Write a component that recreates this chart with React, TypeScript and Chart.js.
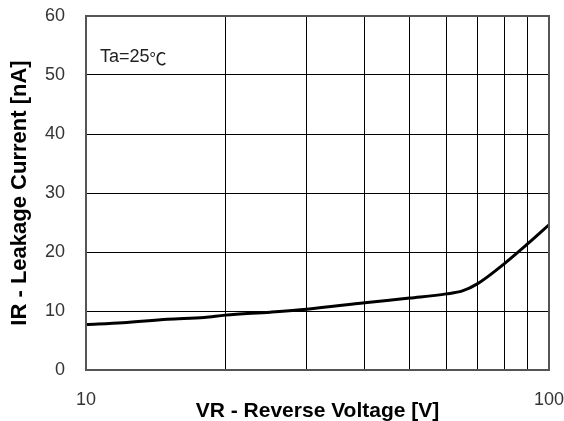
import React, { useEffect, useRef } from "react";
import { Chart, registerables } from "chart.js";

Chart.register(...registerables);

const voltage = [10, 12, 15, 18, 20, 25, 30, 40, 50, 60, 65, 70, 80, 90, 100];
const leakage = [7.7, 8.0, 8.6, 8.9, 9.3, 9.8, 10.3, 11.4, 12.2, 12.9, 13.4, 14.6, 18.0, 21.4, 24.6];
const xGridTicks = [10, 20, 30, 40, 50, 60, 70, 80, 90, 100];
const xLabelTicks = [10, 100];
const yMin = 0;
const yMax = 60;
const yStep = 10;
const annotationMain = "Ta=25";
const annotationUnit = "℃";
const xTitle = "VR - Reverse Voltage [V]";
const yTitle = "IR - Leakage Current [nA]";

const FONT = "Arial, 'Liberation Sans', sans-serif";

export default function App() {
  const ref = useRef<HTMLCanvasElement | null>(null);
  useEffect(() => {
    document.body.style.margin = "0";
    const canvas = ref.current!;
    const framePlugin = {
      id: "frame",
      afterDatasetsDraw(chart: any) {
        const { ctx, chartArea } = chart;
        ctx.save();
        ctx.strokeStyle = "#555";
        ctx.lineWidth = 2;
        ctx.strokeRect(chartArea.left, chartArea.top, chartArea.right - chartArea.left, chartArea.bottom - chartArea.top);
        ctx.fillStyle = "#222";
        ctx.textBaseline = "alphabetic";
        ctx.textAlign = "left";
        ctx.font = `18px ${FONT}`;
        const x0 = chartArea.left + 14;
        const y0 = chartArea.top + 46;
        ctx.fillText(annotationMain, x0, y0);
        const w = ctx.measureText(annotationMain).width;
        ctx.font = `17px 'Noto Sans CJK JP', ${FONT}`;
        ctx.fillText(annotationUnit, x0 + w, y0 + 3);
        ctx.restore();
      },
    };
    const chart = new Chart(canvas, {
      type: "line",
      data: {
        datasets: [
          {
            data: voltage.map((v, i) => ({ x: v, y: leakage[i] })),
            borderColor: "#000",
            borderWidth: 3,
            pointRadius: 0,
            cubicInterpolationMode: "monotone",
            fill: false,
          },
        ],
      },
      options: {
        animation: false,
        responsive: false,
        layout: { padding: { top: 16, right: 15, left: 0, bottom: 0 } },
        plugins: { legend: { display: false }, tooltip: { enabled: false } },
        scales: {
          x: {
            type: "logarithmic",
            min: 10,
            max: 100,
            afterBuildTicks: (s: any) => {
              s.ticks = xGridTicks.map((v) => ({ value: v }));
            },
            afterFit: (s: any) => {
              s.height = 51;
              s.paddingLeft = 0;
              s.paddingRight = 0;
            },
            grid: { color: "#000", lineWidth: 1, drawTicks: false },
            border: { display: false },
            ticks: {
              autoSkip: false,
              maxRotation: 0,
              padding: 19,
              color: "#333",
              font: { family: FONT, size: 18 },
              callback: (v: any) => (xLabelTicks.includes(Number(v)) ? String(v) : ""),
            },
            title: {
              display: true,
              text: xTitle,
              color: "#000",
              font: { family: FONT, size: 21, weight: "bold" },
              padding: { top: 0, bottom: -3 },
            },
          },
          y: {
            min: yMin,
            max: yMax,
            afterFit: (s: any) => {
              s.width = 86;
              s.paddingTop = 0;
              s.paddingBottom = 0;
            },
            grid: { color: "#000", lineWidth: 1, drawTicks: false },
            border: { display: false },
            ticks: {
              stepSize: yStep,
              padding: 21,
              color: "#333",
              font: { family: FONT, size: 18 },
            },
            title: {
              display: true,
              text: yTitle,
              color: "#000",
              font: { family: FONT, size: 22, weight: "bold" },
              padding: { top: 7, bottom: 0 },
            },
          },
        },
      },
      plugins: [framePlugin],
    } as any);
    return () => chart.destroy();
  }, []);
  return <canvas ref={ref} width={564} height={421} style={{ display: "block" }} />;
}
